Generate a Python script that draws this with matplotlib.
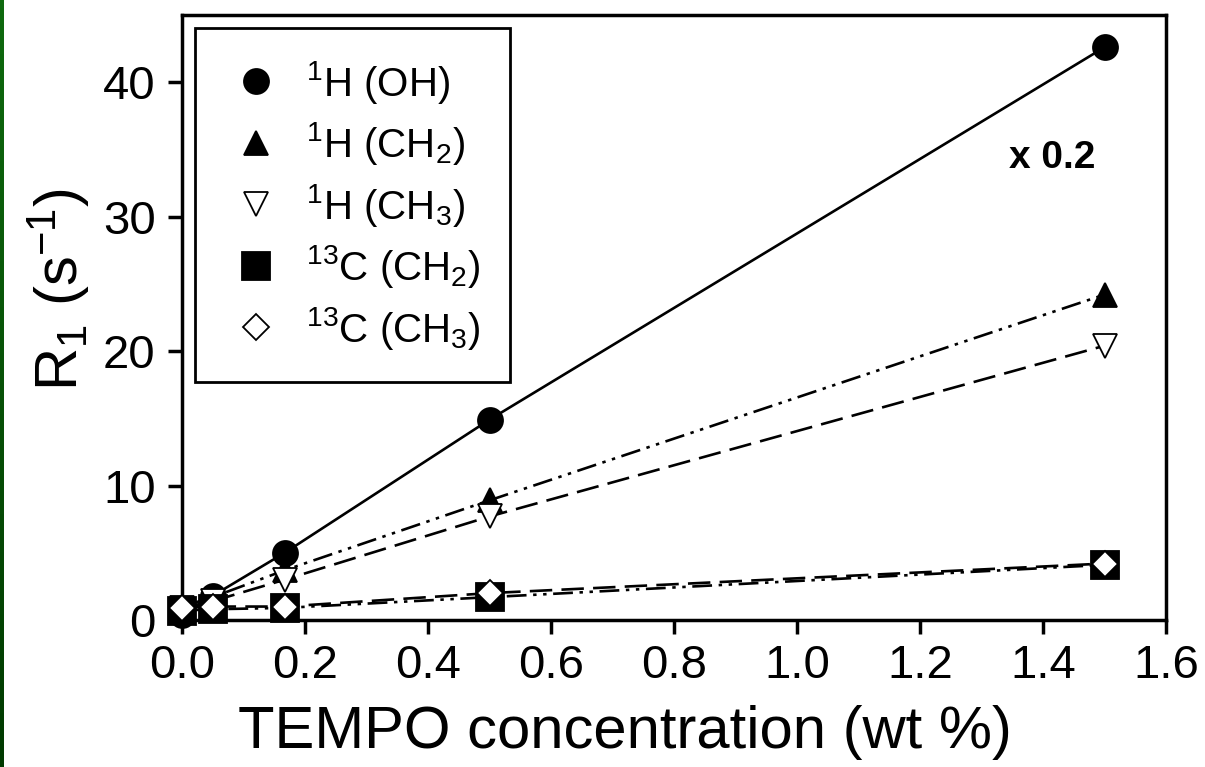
import numpy as np
import matplotlib
matplotlib.use("Agg")
import matplotlib.pyplot as plt
from matplotlib.lines import Line2D
from matplotlib.colors import LinearSegmentedColormap

plt.rcParams['font.family'] = ['Liberation Sans', 'DejaVu Sans']
plt.rcParams['mathtext.fontset'] = 'custom'
plt.rcParams['mathtext.rm'] = 'Liberation Sans'
plt.rcParams['mathtext.it'] = 'Liberation Sans'
plt.rcParams['mathtext.bf'] = 'Liberation Sans:bold'
plt.rcParams['mathtext.default'] = 'regular'

# data
conc = [0.0, 0.05, 0.167, 0.5, 1.5]
h_oh = [0.4, 1.8, 5.0, 14.9, 42.6]
h_ch2 = [1.0, 1.7, 3.7, 8.9, 24.2]
h_ch3 = [0.9, 1.4, 3.0, 7.7, 20.4]
c_ch2 = [0.7, 0.8, 0.9, 1.7, 4.1]
c_ch3 = [0.9, 1.0, 1.0, 2.0, 4.2]
labels = [r'$^{1}$H (OH)', r'$^{1}$H (CH$_2$)', r'$^{1}$H (CH$_3$)',
          r'$^{13}$C (CH$_2$)', r'$^{13}$C (CH$_3$)']
x_ticks = [0.0, 0.2, 0.4, 0.6, 0.8, 1.0, 1.2, 1.4, 1.6]
y_ticks = [0, 10, 20, 30, 40]

fig = plt.figure(figsize=(12.05, 7.67), dpi=100)

# green strip at left edge
sax = fig.add_axes([0, 0, 4 / 1205, 1])
cmap = LinearSegmentedColormap.from_list('g', ['#0f6a0f', '#003a00'])
sax.imshow(np.linspace(0, 1, 100).reshape(-1, 1), aspect='auto', cmap=cmap)
sax.axis('off')

ax = fig.add_axes([182 / 1205, 1 - 620 / 767, 984 / 1205, 605 / 767])

series = [h_oh, h_ch2, h_ch3, c_ch2, c_ch3]
styles = [
    dict(marker='o', ms=18, mfc='black', mec='black', ls='-'),
    dict(marker='^', ms=17, mfc='black', mec='black', ls=(0, (7.5, 2.5, 1.3, 2.5, 1.3, 2.5))),
    dict(marker='v', ms=17, mfc='white', mec='black', ls=(0, (8.5, 3.5))),
    dict(marker='s', ms=20, mfc='black', mec='black', ls=(0, (7.5, 2.5, 1.3, 2.5, 1.3, 2.5))),
    dict(marker='D', ms=13.5, mfc='white', mec='black', ls=(0, (8.5, 3.5))),
]

handles = []
for ys, st, lab in zip(series, styles, labels):
    ax.plot(conc, ys, color='black', lw=1.9, linestyle=st['ls'], zorder=2)
    ax.plot(conc, ys, linestyle='none', marker=st['marker'], ms=st['ms'],
            mfc=st['mfc'], mec=st['mec'], mew=1.3, clip_on=False, zorder=3)
    handles.append(Line2D([], [], linestyle='none', marker=st['marker'], ms=st['ms'],
                          mfc=st['mfc'], mec=st['mec'], mew=1.3, label=lab))

ax.set_xlim(0, 1.6)
ax.set_ylim(0, 45)
ax.set_xticks(x_ticks)
ax.set_xticklabels([f'{v:.1f}' for v in x_ticks])
ax.set_yticks(y_ticks)
ax.tick_params(axis='both', direction='out', length=10, width=2.5, labelsize=34,
               top=False, right=False)
ax.tick_params(axis='x', pad=7)
ax.tick_params(axis='y', pad=9)
for sp in ax.spines.values():
    sp.set_linewidth(2.5)

ax.set_xlabel('TEMPO concentration (wt %)', fontsize=43)
ax.xaxis.set_label_coords((625 - 182) / 984, (620 - 760) / 605)
ax.xaxis.label.set_va('bottom')
ax.set_ylabel(r'R$_1$ (s$^{-1}$)', fontsize=43)
ax.yaxis.set_label_coords((58 - 182) / 984, (620 - 290) / 605)
ax.yaxis.label.set_va('center')

ax.text(1.415, 34.4, 'x 0.2', fontsize=28, fontweight='bold', ha='center', va='center')

leg = ax.legend(handles=handles, loc='upper left', bbox_to_anchor=(0.013, 0.978),
                fontsize=29, frameon=True, fancybox=False, framealpha=1,
                edgecolor='black', borderpad=0.75, labelspacing=0.36,
                handlelength=1.55, handletextpad=0.45, borderaxespad=0)
leg.get_frame().set_linewidth(2)

fig.savefig('out.png', dpi=100)
